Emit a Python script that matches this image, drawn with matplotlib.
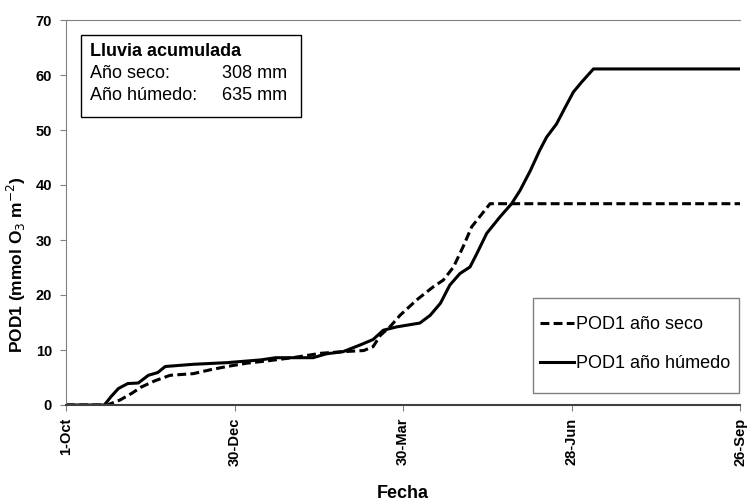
import matplotlib
matplotlib.use("Agg")
import matplotlib.pyplot as plt
from matplotlib.patches import Rectangle

plt.rcParams['font.family'] = ['Liberation Sans', 'DejaVu Sans']

# days since 1-Oct
dias_humedo = [0, 20.5, 24, 28, 33, 38.6, 44, 49, 53, 68, 86, 104, 112, 132, 139, 148, 157, 164,
               169.5, 176.6, 189, 194.5, 200, 205, 210.4, 215.8, 219.4, 224.7, 231.8, 238, 242.5,
               248, 253, 256.7, 262, 266.6, 271, 275.4, 281.7, 360]
pod_humedo = [0, 0, 1.5, 3.0, 3.9, 4.0, 5.4, 5.9, 7.0, 7.4, 7.7, 8.2, 8.6, 8.6, 9.3, 9.7, 10.9, 11.9,
              13.6, 14.2, 14.9, 16.3, 18.5, 21.8, 23.9, 25.1, 27.5, 31.2, 34.2, 36.6, 39.0,
              42.6, 46.3, 48.7, 51.1, 54.1, 56.9, 58.7, 61.1, 61.1]

dias_seco = [0, 22, 28.8, 35, 40.4, 47.5, 55.6, 68, 77, 86, 96.5, 107, 121, 136, 148, 159, 164,
             168, 173, 178.4, 187.3, 196.2, 201.5, 207, 212, 216.7, 223, 226.5, 360]
pod_seco = [0, 0, 0.9, 2.1, 3.3, 4.4, 5.4, 5.7, 6.4, 7.0, 7.6, 8.0, 8.6, 9.4, 9.7, 9.9, 10.6,
            12.7, 14.2, 16.3, 19.1, 21.5, 22.7, 25.1, 28.7, 32.4, 35.1, 36.6, 36.6]

tick_dias = [0, 90, 180, 270, 360]
tick_fechas = ['1-Oct', '30-Dec', '30-Mar', '28-Jun', '26-Sep']

lluvia_seco = 308
lluvia_humedo = 635

fig = plt.figure(figsize=(7.48, 5.03), dpi=100)
ax = fig.add_axes([66/748, 98/503, 674/748, 385/503])

ax.plot(dias_seco, pod_seco, color='black', lw=2.2, dashes=(2.9, 1.4), label='POD1 año seco')
ax.plot(dias_humedo, pod_humedo, color='black', lw=2.2, label='POD1 año húmedo')

ax.set_xlim(0, 360)
ax.set_ylim(0, 70)
ax.set_xticks(tick_dias)
ax.set_xticklabels(tick_fechas, rotation=90, fontweight='bold', fontsize=10.5)
ax.set_yticks(range(0, 71, 10))
for t in ax.get_yticklabels():
    t.set_fontweight('bold')
    t.set_fontsize(10.5)

ax.spines['right'].set_visible(False)
ax.spines['top'].set_color('#808080')
ax.spines['left'].set_color('#808080')
ax.spines['bottom'].set_color('#404040')
ax.spines['bottom'].set_linewidth(1.5)
ax.tick_params(axis='both', direction='out', length=4, color='#808080')
ax.tick_params(axis='y', pad=6)
ax.tick_params(axis='x', pad=5)

ax.set_xlabel('Fecha', fontweight='bold', fontsize=13, labelpad=14)
ax.set_ylabel('POD1 (mmol O$_3$ m$^{-2}$)', fontweight='bold', fontsize=12.5)
ax.yaxis.set_label_coords(-0.056, 0.364)

# rainfall box
ax.add_patch(Rectangle((0.022, 0.748), 0.327, 0.213, transform=ax.transAxes,
                       fill=False, edgecolor='black', lw=1.0))
ax.text(0.036, 0.917, 'Lluvia acumulada', transform=ax.transAxes, fontsize=13,
        fontweight='bold', va='center')
ax.text(0.036, 0.862, 'Año seco:', transform=ax.transAxes, fontsize=13, va='center')
ax.text(0.328, 0.862, f'{lluvia_seco} mm', transform=ax.transAxes, fontsize=13,
        va='center', ha='right')
ax.text(0.036, 0.805, 'Año húmedo:', transform=ax.transAxes, fontsize=13, va='center')
ax.text(0.328, 0.805, f'{lluvia_humedo} mm', transform=ax.transAxes, fontsize=13,
        va='center', ha='right')

# legend box drawn separately
ax.add_patch(Rectangle((0.693, 0.031), 0.305, 0.247, transform=ax.transAxes,
                       fill=False, edgecolor='#808080', lw=1.0, clip_on=False))
ax.legend(loc='upper left', bbox_to_anchor=(0.703, 0.230), fontsize=13, frameon=False,
          handlelength=1.9, handletextpad=0.1, labelspacing=1.2,
          borderaxespad=0, borderpad=0)

fig.savefig('out.png', dpi=100)
